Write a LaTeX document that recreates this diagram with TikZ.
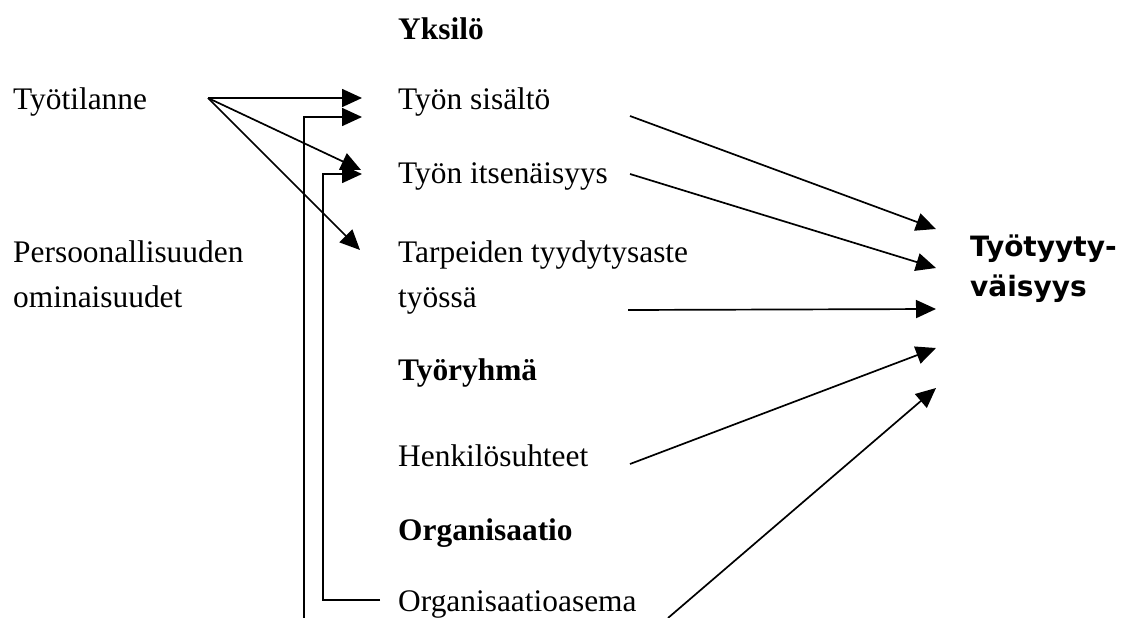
\documentclass[tikz,border=0pt]{standalone}
\usepackage{fontspec}
\setmainfont{Liberation Serif}
\newfontfamily\outcomefont{DejaVu Sans}
\usetikzlibrary{arrows.meta,calc}

\begin{document}
\begin{tikzpicture}[x=1bp,y=-1bp,
  lbl/.style={anchor=base west,inner sep=0pt,font=\fontsize{31.4bp}{45bp}\selectfont},
  hd/.style={anchor=base west,inner sep=0pt,font=\fontsize{31.4bp}{45bp}\selectfont\bfseries},
  outc/.style={anchor=base west,inner sep=0pt,font=\fontsize{28bp}{40bp}\outcomefont\bfseries},
  arr/.style={line width=1.7bp,-{Triangle[length=20bp,width=18bp]}}]
\useasboundingbox (0,0) rectangle (1131,618);

% left column
\node[lbl] (tilanne) at (13,110) {Työtilanne};
\node[lbl] (pers)    at (13,263) {Persoonallisuuden};
\node[lbl] (persb)   at (13,308) {ominaisuudet};

% middle column
\node[hd]  (yksilo)  at (398,40)  {Yksilö};
\node[lbl] (sisalto) at (398,110) {Työn sisältö};
\node[lbl] (itsen)   at (398,184) {Työn itsenäisyys};
\node[lbl] (tarve)   at (398,263) {Tarpeiden tyydytysaste};
\node[lbl] (tarveb)  at (398,308) {työssä};
\node[hd]  (ryhma)   at (398,380) {Työryhmä};
\node[lbl] (henk)    at (398,466) {Henkilösuhteet};
\node[hd]  (org)     at (398,540) {Organisaatio};
\node[lbl] (asema)   at (398,611) {Organisaatioasema};

% outcome
\node[outc] (tyyt)  at (970,257) {Työtyyty-};
\node[outc] (tyytb) at (970,297) {väisyys};

% connector end points
\coordinate (src) at (208,98);
\coordinate (a1) at (362,98);
\coordinate (a2) at (361,170);
\coordinate (a3) at (360,250);
\coordinate (e1) at (362,117);
\coordinate (e2) at (362,174);
\coordinate (offA) at (304,625);
\coordinate (bB) at (380,600);

\coordinate (r1) at (630,116);
\coordinate (r2) at (630,174);
\coordinate (r3) at (628,310);
\coordinate (r4) at (630,464);
\coordinate (r5) at (668,618);
\coordinate (t1) at (936,229);
\coordinate (t2) at (936,268);
\coordinate (t3) at (936,309);
\coordinate (t4) at (936,348);
\coordinate (t5) at (936,388);

% work situation fans out
\draw[arr] (src) -- (a1);
\draw[arr] (src) -- (a2);
\draw[arr] (src) -- (a3);

% elbow feeds from below
\draw[arr] (offA) |- (e1);
\draw[arr] (bB) -| ($(e2)+(-39,0)$) -- (e2);

% factors into job satisfaction
\draw[arr] (r1) -- (t1);
\draw[arr] (r2) -- (t2);
\draw[arr] (r3) -- (t3);
\draw[arr] (r4) -- (t4);
\draw[arr] (r5) -- (t5);
\end{tikzpicture}
\end{document}
